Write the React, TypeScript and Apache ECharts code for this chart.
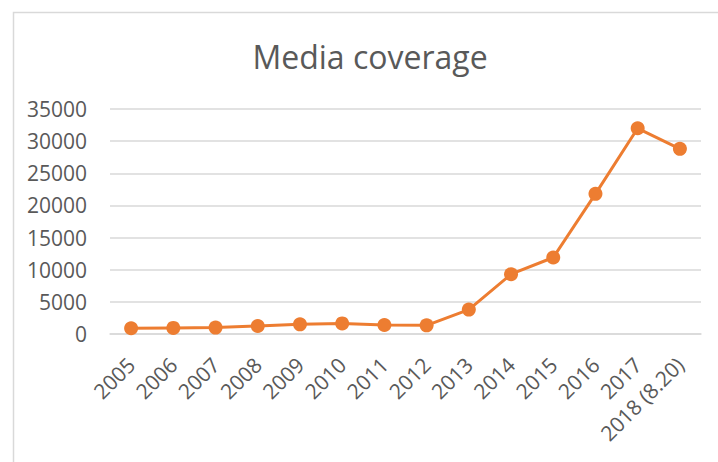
import React, { useEffect, useRef } from "react";
import * as echarts from "echarts";

const categories = [
  "2005", "2006", "2007", "2008", "2009", "2010", "2011",
  "2012", "2013", "2014", "2015", "2016", "2017", "2018 (8.20)",
];
const mediaCoverage = [
  900, 950, 1000, 1250, 1500, 1650, 1400, 1350, 3800, 9300, 11900, 21800, 32000, 28800,
];
const yTicks = { min: 0, max: 35000, interval: 5000 };
const titleText = "Media coverage";

export default function App() {
  const ref = useRef<HTMLDivElement>(null);
  useEffect(() => {
    if (!ref.current) return;
    const chart = echarts.init(ref.current, null, { renderer: "svg" });
    const font = "'Open Sans', 'Noto Sans', sans-serif";
    chart.setOption({
      animation: false,
      backgroundColor: "#ffffff",
      graphic: [
        {
          type: "rect",
          left: 11,
          top: 10,
          shape: { width: 740, height: 480 },
          style: { fill: "none", stroke: "#d9d9d9", lineWidth: 1.5 },
          silent: true,
        },
        {
          type: "text",
          x: 370,
          y: 56,
          style: {
            text: titleText,
            fill: "#595959",
            font: `32px ${font}`,
            textAlign: "center",
            textVerticalAlign: "middle",
          },
        },
      ],
      grid: { left: 110, right: 17, top: 109, bottom: 128, containLabel: false },
      xAxis: {
        type: "category",
        data: categories,
        boundaryGap: true,
        axisLine: { show: true, lineStyle: { color: "#d9d9d9", width: 1.5 } },
        axisTick: { show: false },
        axisLabel: {
          rotate: 45,
          interval: 0,
          margin: 27,
          color: "#595959",
          fontSize: 21,
          fontFamily: font,
        },
      },
      yAxis: {
        type: "value",
        min: yTicks.min,
        max: yTicks.max,
        interval: yTicks.interval,
        axisLine: { show: false },
        axisTick: { show: false },
        splitLine: { lineStyle: { color: "#d9d9d9", width: 1.5 } },
        axisLabel: {
          margin: 23,
          color: "#595959",
          fontSize: 21,
          fontFamily: font,
          formatter: (v: number) => String(v),
        },
      },
      series: [
        {
          type: "line",
          data: mediaCoverage,
          symbol: "circle",
          symbolSize: 14,
          lineStyle: { color: "#ED7D31", width: 3 },
          itemStyle: { color: "#ED7D31" },
        },
      ],
    });
    return () => chart.dispose();
  }, []);
  return (
    <div
      ref={ref}
      style={{ position: "fixed", left: 0, top: 0, width: 718, height: 462 }}
    />
  );
}
